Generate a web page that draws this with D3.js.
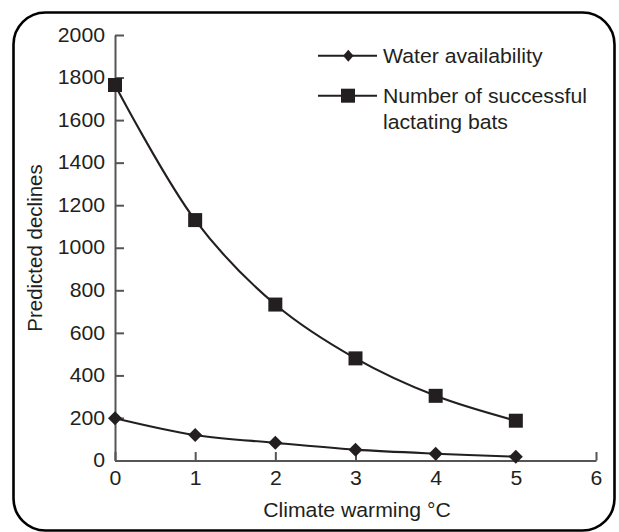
<!DOCTYPE html>
<html>
<head>
<meta charset="utf-8">
<script src="https://cdn.jsdelivr.net/npm/d3@7"></script>
<style>
  html, body { margin: 0; padding: 0; background: #fff; }
  svg { display: block; }
  text { font-family: "Liberation Sans", Arial, Helvetica, sans-serif; fill: #231f20; }
</style>
</head>
<body>
<svg id="chart" width="619" height="532"></svg>
<script>
// ---- data ----
const warming = [0, 1, 2, 3, 4, 5];
const waterAvailability = [199, 120, 83, 51, 32, 18];
const lactatingBats = [1765, 1130, 733, 480, 304, 187];
const xTicks = [0, 1, 2, 3, 4, 5, 6];
const yTicks = [0, 200, 400, 600, 800, 1000, 1200, 1400, 1600, 1800, 2000];
const seriesNames = ["Water availability", "Number of successful|lactating bats"];
const xTitle = "Climate warming \u00B0C";
const yTitle = "Predicted declines";

// ---- layout ----
const svg = d3.select("#chart");
const ink = "#231f20";
const axisGrey = "#555555";
const stretch = 1.1;
const fs = 19.3;

// rounded frame
svg.append("rect")
  .attr("x", 13.5).attr("y", 12.5)
  .attr("width", 601).attr("height", 518)
  .attr("rx", 32).attr("ry", 32)
  .attr("fill", "#fff").attr("stroke", "#000").attr("stroke-width", 2.6);

const x = d3.scaleLinear().domain([0, 6]).range([115, 596]);
const y = d3.scaleLinear().domain([0, 2000]).range([460.5, 35]);

// axes
const xAxis = d3.axisBottom(x).tickValues(xTicks).tickFormat(d3.format("d"))
  .tickSizeInner(-8.5).tickSizeOuter(0).tickPadding(11);
const yAxis = d3.axisLeft(y).tickValues(yTicks).tickFormat(d3.format("d"))
  .tickSizeInner(-9).tickSizeOuter(0).tickPadding(10);

const gx = svg.append("g").attr("transform", `translate(0,${y(0)})`).call(xAxis);
const gy = svg.append("g").attr("transform", `translate(${x(0)},0)`).call(yAxis);

[gx, gy].forEach(g => {
  g.select(".domain").attr("stroke", axisGrey).attr("stroke-width", 2);
  g.selectAll(".tick line").attr("stroke", axisGrey).attr("stroke-width", 2);
  g.selectAll(".tick text")
    .attr("font-size", fs)
    .attr("fill", ink)
    .attr("font-family", "Liberation Sans, Arial, sans-serif");
});
gx.selectAll(".tick text").attr("transform", `scale(${stretch},1)`).attr("x", 0);
gy.selectAll(".tick text").attr("transform", `scale(${stretch},1)`).attr("x", -10 / stretch);

// lines
const line = d3.line()
  .x((d, i) => x(warming[i]))
  .y(d => y(d))
  .curve(d3.curveCatmullRom.alpha(0.5));

svg.append("path").datum(lactatingBats)
  .attr("d", line).attr("fill", "none").attr("stroke", ink).attr("stroke-width", 2.1);
svg.append("path").datum(waterAvailability)
  .attr("d", line).attr("fill", "none").attr("stroke", ink).attr("stroke-width", 2.1);

const sq = 14;
svg.append("g").selectAll("rect").data(lactatingBats).join("rect")
  .attr("x", (d, i) => x(warming[i]) - sq / 2)
  .attr("y", d => y(d) - sq / 2)
  .attr("width", sq).attr("height", sq)
  .attr("fill", ink);

const diamond = (cx, cy, hw, hh) => `M${cx},${cy - hh}L${cx + hw},${cy}L${cx},${cy + hh}L${cx - hw},${cy}Z`;
svg.append("g").selectAll("path").data(waterAvailability).join("path")
  .attr("d", (d, i) => diamond(x(warming[i]), y(d), 7, 7))
  .attr("fill", ink);

// legend
const lg = svg.append("g");
const legY = [55.7, 95.7];
lg.append("line").attr("x1", 318).attr("x2", 377).attr("y1", legY[0]).attr("y2", legY[0])
  .attr("stroke", ink).attr("stroke-width", 2);
lg.append("path").attr("d", diamond(348.3, legY[0], 5.2, 6)).attr("fill", ink);
lg.append("line").attr("x1", 318).attr("x2", 377).attr("y1", legY[1]).attr("y2", legY[1])
  .attr("stroke", ink).attr("stroke-width", 2);
lg.append("rect").attr("x", 348 - sq / 2).attr("y", legY[1] - sq / 2)
  .attr("width", sq).attr("height", sq).attr("fill", ink);

seriesNames.forEach((name, k) => {
  name.split("|").forEach((ln, j) => {
    lg.append("text")
      .attr("transform", `translate(383,${legY[k] + 7 + j * 26}) scale(${stretch},1)`)
      .attr("font-size", fs)
      .text(ln);
  });
});

// axis titles
svg.append("text")
  .attr("transform", `translate(357,517) scale(${stretch},1)`)
  .attr("text-anchor", "middle")
  .attr("font-size", fs)
  .text(xTitle);

svg.append("text")
  .attr("transform", `translate(42,248) rotate(-90)`)
  .attr("text-anchor", "middle")
  .attr("font-size", 20.5)
  .text(yTitle);
</script>
</body>
</html>
